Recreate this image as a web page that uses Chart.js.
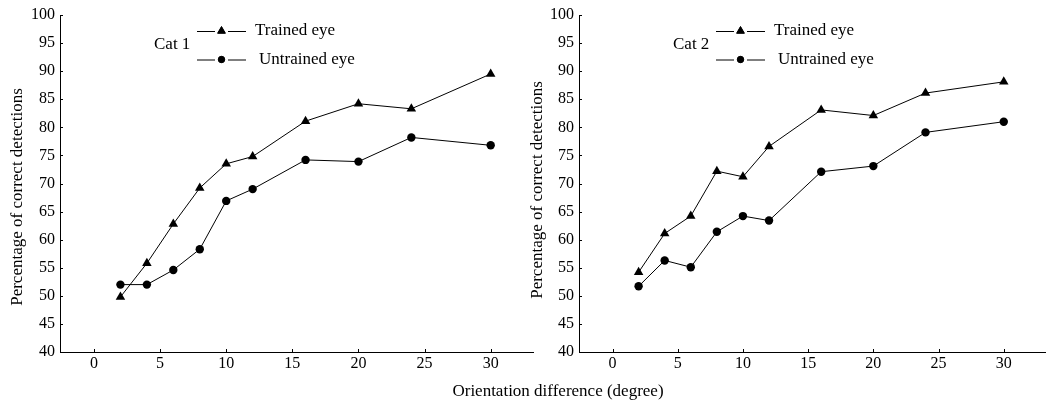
<!DOCTYPE html>
<html>
<head>
<meta charset="utf-8">
<script src="https://cdn.jsdelivr.net/npm/chart.js@4.4.1/dist/chart.umd.min.js"></script>
<style>
  body { margin: 0; background: #fff; }
  #page { position: relative; width: 1051px; height: 402px; overflow: hidden; background: #fff; }
  #chart1 { position: absolute; left: 0; top: 0; }
  #chart2 { position: absolute; left: 520px; top: 0; }
  #xTitle { position: absolute; left: 358px; top: 381px; width: 400px; text-align: center;
            font: 17px "Liberation Serif", serif; line-height: 20px; color: #000; }
</style>
</head>
<body>
<div id="page">
  <canvas id="chart1" width="540" height="402"></canvas>
  <canvas id="chart2" width="531" height="402"></canvas>
  <div id="xTitle">Orientation difference (degree)</div>
</div>
<script>
// orientation difference (degree)
var degrees = [2, 4, 6, 8, 10, 12, 16, 20, 24, 30];

// percentage of correct detections
var cat1Trained   = [49.8, 55.8, 62.8, 69.2, 73.5, 74.8, 81.1, 84.2, 83.3, 89.5];
var cat1Untrained = [52.0, 52.0, 54.6, 58.3, 66.9, 69.0, 74.2, 73.9, 78.2, 76.8];
var cat2Trained   = [54.2, 61.1, 64.2, 72.2, 71.2, 76.6, 83.1, 82.1, 86.1, 88.1];
var cat2Untrained = [51.7, 56.3, 55.1, 61.4, 64.2, 63.4, 72.1, 73.1, 79.1, 81.0];

var seriesNames = ['Trained eye', 'Untrained eye'];
var yTitle = 'Percentage of correct detections';

var serif = '"Liberation Serif", "Times New Roman", serif';

function toPoints(ys) {
    return degrees.map(function (d, i) { return { x: d, y: ys[i] }; });
}

// small tick marks pointing into the plot
var insideTicks = {
    id: 'insideTicks',
    afterDraw: function (chart) {
        var ctx = chart.ctx, a = chart.chartArea;
        var xs = chart.scales.x, ys = chart.scales.y;
        ctx.save();
        ctx.strokeStyle = '#000';
        ctx.lineWidth = 1;
        ctx.beginPath();
        xs.ticks.forEach(function (t) {
            var px = Math.round(xs.getPixelForValue(t.value)) + 0.5;
            ctx.moveTo(px, a.bottom);
            ctx.lineTo(px, a.bottom - 3);
        });
        ys.ticks.forEach(function (t) {
            var py = Math.round(ys.getPixelForValue(t.value)) + 0.5;
            ctx.moveTo(a.left, py);
            ctx.lineTo(a.left + 3, py);
        });
        ctx.stroke();
        ctx.restore();
    }
};

// "Cat n" label, hand-made legend and the rotated y title
var annotations = {
    id: 'annotations',
    afterDraw: function (chart, args, opts) {
        var ctx = chart.ctx, a = chart.chartArea;
        ctx.save();
        ctx.fillStyle = '#000';
        ctx.strokeStyle = '#000';
        ctx.lineWidth = 1;
        ctx.font = '17px ' + serif;
        ctx.textBaseline = 'middle';
        ctx.textAlign = 'left';
        ctx.fillText(opts.cat, a.left + 94, 45);

        var rows = [{ y: 31, style: 'triangle', dx: 195 }, { y: 59.5, style: 'circle', dx: 199 }];
        rows.forEach(function (r, i) {
            ctx.beginPath();
            ctx.moveTo(a.left + 137, r.y + 0.5); ctx.lineTo(a.left + 155, r.y + 0.5);
            ctx.moveTo(a.left + 168, r.y + 0.5); ctx.lineTo(a.left + 186, r.y + 0.5);
            ctx.stroke();
            Chart.helpers.drawPoint(ctx, { pointStyle: r.style, radius: r.style === 'triangle' ? 4.5 : 3.2, borderWidth: 1, rotation: 0 }, a.left + 161.5, r.y);
            ctx.fill();
            ctx.fillText(seriesNames[i], a.left + r.dx, r.y);
        });

        ctx.translate(18, opts.titleY);
        ctx.rotate(-Math.PI / 2);
        ctx.textAlign = 'center';
        ctx.fillText(yTitle, 0, 0);
        ctx.restore();
    }
};

function makeChart(id, trained, untrained, cat, titleY, padRight) {
    var ctx = document.getElementById(id).getContext('2d');
    return new Chart(ctx, {
        type: 'line',
        data: {
            datasets: [{
                label: seriesNames[0],
                data: toPoints(trained),
                borderColor: '#000',
                backgroundColor: '#000',
                borderWidth: 1,
                pointStyle: 'triangle',
                pointRadius: 5.5,
                pointBorderWidth: 0,
                tension: 0
            }, {
                label: seriesNames[1],
                data: toPoints(untrained),
                borderColor: '#000',
                backgroundColor: '#000',
                borderWidth: 1,
                pointStyle: 'circle',
                pointRadius: 4.2,
                pointBorderWidth: 0,
                tension: 0
            }]
        },
        options: {
            responsive: false,
            animation: false,
            devicePixelRatio: 1,
            layout: { padding: { top: 15, right: padRight, left: 0, bottom: 0 } },
            plugins: {
                legend: { display: false },
                tooltip: { enabled: false },
                annotations: { cat: cat, titleY: titleY }
            },
            scales: {
                x: {
                    type: 'linear',
                    min: -2.57,
                    max: 33.2,
                    grid: { display: false, drawTicks: false },
                    border: { display: true, color: '#000', width: 1 },
                    ticks: {
                        stepSize: 5,
                        includeBounds: false,
                        padding: 2,
                        color: '#000',
                        font: { family: serif, size: 16 },
                        callback: function (v) { return (v >= 0 && v <= 30 && v % 5 === 0) ? v : null; }
                    },
                    afterFit: function (s) { s.height = 50; }
                },
                y: {
                    min: 40,
                    max: 100,
                    grid: { display: false, drawTicks: false },
                    border: { display: true, color: '#000', width: 1 },
                    ticks: {
                        stepSize: 5,
                        padding: 5,
                        color: '#000',
                        font: { family: serif, size: 16 }
                    },
                    afterFit: function (s) { s.width = (id === 'chart1') ? 60 : 59; }
                }
            }
        },
        plugins: [insideTicks, annotations]
    });
}

var chart1 = makeChart('chart1', cat1Trained, cat1Untrained, 'Cat 1', 197, 7);
var chart2 = makeChart('chart2', cat2Trained, cat2Untrained, 'Cat 2', 190, 0);
</script>
</body>
</html>
